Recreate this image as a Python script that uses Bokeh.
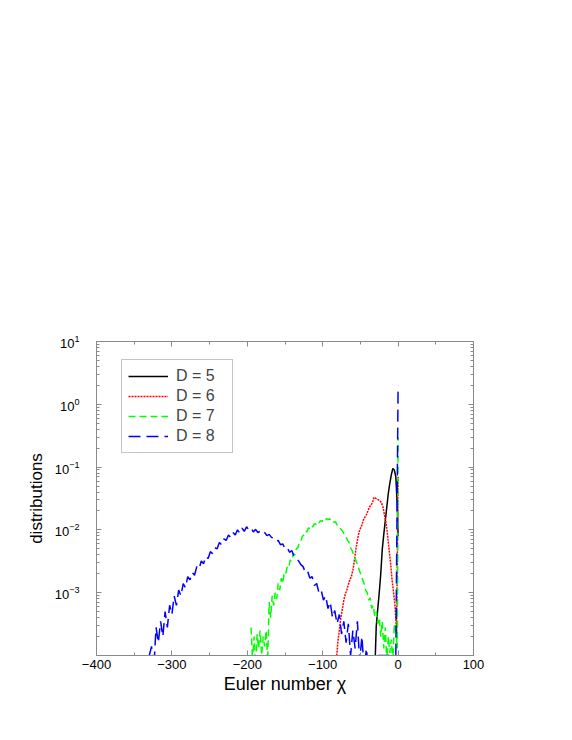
from bokeh.plotting import figure
from bokeh.models import FixedTicker, LinearAxis, LogAxis, CustomJSTickFormatter
from bokeh.embed import file_html
from bokeh.resources import INLINE

# ---- data ----
# D = 5 (black, solid)
d5_chi = list(range(-31, 0, 2)) + [0]
d5_val = [5e-5, 2.9e-4, 5.5e-4, 1.0e-3, 2.0e-3, 4.9e-3, 8.5e-3, 1.4e-2, 2.3e-2,
          3.8e-2, 5.5e-2, 7.5e-2, 9.5e-2, 9.0e-2, 7.0e-2, 2.3e-2, 8e-3]

# D = 6 (red, dotted)
d6_chi = list(range(-82, 0, 2)) + [0]
d6_val = [8e-5, 1.6e-4, 2.5e-4, 4.0e-4, 5.4e-4, 7.6e-4, 9.5e-4, 1.1e-3, 1.35e-3, 1.6e-3,
          1.8e-3, 2.3e-3, 3.2e-3, 4.9e-3, 6.8e-3, 9.1e-3, 1.05e-2, 1.2e-2, 1.45e-2, 1.6e-2,
          1.75e-2, 2.0e-2, 2.3e-2, 2.5e-2, 2.7e-2, 3.3e-2, 3.2e-2, 3.1e-2, 3.0e-2, 2.9e-2,
          2.7e-2, 2.3e-2, 1.7e-2, 1.3e-2, 8.3e-3, 4.9e-3, 3.0e-3, 1.6e-3, 1.0e-3, 6.0e-4,
          2.3e-4,
          7.0e-2]

# D = 7 (green, dashed)
d7_chi = list(range(-195, 0, 2)) + [0]
d7_val = [2.8e-4, 8e-5, 2.0e-4, 6e-5, 2.2e-4, 1.3e-4, 2.5e-4, 1.0e-4, 2.0e-4, 1.4e-4,
          2.5e-4, 8e-5, 7.1e-4, 4.0e-4, 8.9e-4, 6.3e-4, 1.0e-3, 7.9e-4, 1.4e-3, 1.1e-3,
          1.7e-3, 1.4e-3, 2.1e-3, 2.0e-3, 2.6e-3, 2.5e-3, 3.3e-3, 3.2e-3, 4.2e-3, 4.0e-3,
          5.0e-3, 5.2e-3, 6.3e-3, 6.6e-3, 7.9e-3, 8.3e-3, 9.5e-3, 9.3e-3, 1.07e-2, 1.05e-2,
          1.17e-2, 1.12e-2, 1.26e-2, 1.23e-2, 1.35e-2, 1.29e-2, 1.41e-2, 1.35e-2, 1.48e-2, 1.41e-2,
          1.51e-2, 1.45e-2, 1.51e-2, 1.41e-2, 1.45e-2, 1.32e-2, 1.35e-2, 1.20e-2, 1.17e-2, 1.07e-2,
          1.0e-2, 9.3e-3, 8.3e-3, 7.6e-3, 6.8e-3, 6.3e-3, 5.2e-3, 4.7e-3, 4.0e-3, 3.5e-3,
          3.0e-3, 2.6e-3, 2.2e-3, 1.9e-3, 1.6e-3, 1.4e-3, 1.1e-3, 1.0e-3, 7.6e-4, 8.3e-4,
          5.6e-4, 6.3e-4, 4.2e-4, 5.0e-4, 3.2e-4, 4.0e-4, 2.0e-4, 3.5e-4, 1.3e-4, 2.8e-4,
          8e-5, 2.0e-4, 1.1e-4, 1.8e-4, 8e-5, 3.2e-4, 2.5e-4, 1.3e-4,
          0.3]

# D = 8 (blue, long dashes)
d8_chi = list(range(-330, 0, 3)) + [0]
d8_val = [1.0e-4, 1.4e-4, 6.3e-5, 2.8e-4, 1.6e-4, 3.5e-4, 2.0e-4, 5.0e-4, 2.8e-4, 6.3e-4,
          4.5e-4, 8.9e-4, 6.3e-4, 1.1e-3, 8.9e-4, 1.4e-3, 1.2e-3, 1.8e-3, 1.6e-3, 2.1e-3,
          1.9e-3, 2.6e-3, 2.4e-3, 3.2e-3, 2.9e-3, 3.8e-3, 3.5e-3, 4.5e-3, 4.2e-3, 5.2e-3,
          5.0e-3, 6.3e-3, 5.8e-3, 7.2e-3, 6.8e-3, 8.3e-3, 7.6e-3, 9.1e-3, 8.3e-3, 1.0e-2,
          8.9e-3, 1.07e-2, 9.5e-3, 1.12e-2, 1.0e-2, 1.07e-2, 9.3e-3, 1.02e-2, 9.1e-3, 9.5e-3,
          8.7e-3, 9.1e-3, 8.1e-3, 8.5e-3, 7.6e-3, 7.4e-3, 6.6e-3, 6.8e-3, 5.8e-3, 6.0e-3,
          5.0e-3, 5.2e-3, 4.4e-3, 4.7e-3, 3.8e-3, 3.5e-3, 3.2e-3, 2.8e-3, 2.6e-3, 2.1e-3,
          2.2e-3, 1.7e-3, 1.8e-3, 1.3e-3, 1.4e-3, 1.0e-3, 1.1e-3, 7.6e-4, 8.9e-4, 5.6e-4,
          7.1e-4, 4.0e-4, 5.2e-4, 3.2e-4, 4.5e-4, 2.2e-4, 3.5e-4, 1.6e-4, 3.2e-4, 1.0e-4,
          2.5e-4, 1.3e-4, 3.5e-4, 8e-5, 2.0e-4, 6e-5, 1.3e-4, 5e-5, 1.0e-4, 6e-5,
          1.0e-4,
          1.0e-4, 1.0e-4, 1.0e-4, 1.0e-4, 1.0e-4, 1.0e-4, 1.0e-4, 1.0e-4, 1.0e-4,
          2.0]

x_major = [-400, -300, -200, -100, 0, 100]
x_minor = [-350, -250, -150, -50, 50]
x_labels = {-400: "\u2212400", -300: "\u2212300", -200: "\u2212200", -100: "\u2212100", 0: "0", 100: "100"}
y_major = [1e-3, 1e-2, 1e-1, 1.0, 10.0]
y_minor = [k * 10.0 ** e for e in range(-4, 1) for k in range(2, 10)]

FONT = "Liberation Sans"
GRAY = "#8a8a8a"

p = figure(frame_width=377, frame_height=314,
           x_range=(-400, 100), y_range=(1e-4, 10), y_axis_type="log",
           min_border_left=96, min_border_top=341, min_border_right=40, min_border_bottom=55,
           output_backend="svg", toolbar_location=None)
p.xgrid.grid_line_color = None
p.ygrid.grid_line_color = None
p.outline_line_color = GRAY
p.background_fill_color = "white"
p.border_fill_color = "white"

xt = FixedTicker(ticks=x_major, minor_ticks=x_minor)
yt = FixedTicker(ticks=y_major, minor_ticks=y_minor)

def style(ax):
    ax.axis_line_color = GRAY
    ax.major_tick_line_color = GRAY
    ax.minor_tick_line_color = GRAY
    ax.major_tick_in = 5
    ax.major_tick_out = 0
    ax.minor_tick_in = 3
    ax.minor_tick_out = 0
    ax.major_label_text_font = FONT
    ax.major_label_text_font_size = "13px"
    ax.major_label_text_color = "black"
    ax.axis_label_text_font = FONT
    ax.axis_label_text_font_style = "normal"
    ax.axis_label_text_color = "black"

xa = p.xaxis[0]
xa.ticker = xt
xa.major_label_overrides = x_labels
xa.axis_label = "Euler number \u03c7"
xa.axis_label_text_font_size = "18px"
xa.major_label_standoff = 4
xa.axis_label_standoff = 2
style(xa)

ya = p.yaxis[0]
ya.ticker = yt
ya.axis_label = "distributions"
ya.axis_label_text_font_size = "17px"
ya.major_label_standoff = 17
ya.axis_label_standoff = 6
style(ya)

blank = CustomJSTickFormatter(code="return '';")
top = LinearAxis(ticker=xt, formatter=blank)
style(top)
top.major_label_standoff = 0
p.add_layout(top, "above")
right = LogAxis(ticker=yt, formatter=CustomJSTickFormatter(code="return '';"))
style(right)
right.major_label_standoff = 0
p.add_layout(right, "right")

p.line(d5_chi, d5_val, line_color="black", line_width=1.5, legend_label="D = 5")
p.line(d6_chi, d6_val, line_color="#ff0000", line_width=1.5, line_dash="2 1", legend_label="D = 6")
p.line(d7_chi, d7_val, line_color="#00ff00", line_width=1.5, line_dash="7 4", legend_label="D = 7")
p.line(d8_chi, d8_val, line_color="#0000ff", line_width=1.5, line_dash="12 6", legend_label="D = 8")

lg = p.legend[0]
lg.location = (25, 202)
lg.border_line_color = GRAY
lg.border_line_width = 1
lg.background_fill_color = "white"
lg.background_fill_alpha = 1.0
lg.label_text_font = FONT
lg.label_text_font_size = "16px"
lg.glyph_width = 40
lg.glyph_height = 20
lg.label_height = 20
lg.label_width = 50
lg.label_standoff = 8
lg.spacing = 0
lg.padding = 6
lg.margin = 0

open("out.html", "w").write(file_html(p, INLINE))
